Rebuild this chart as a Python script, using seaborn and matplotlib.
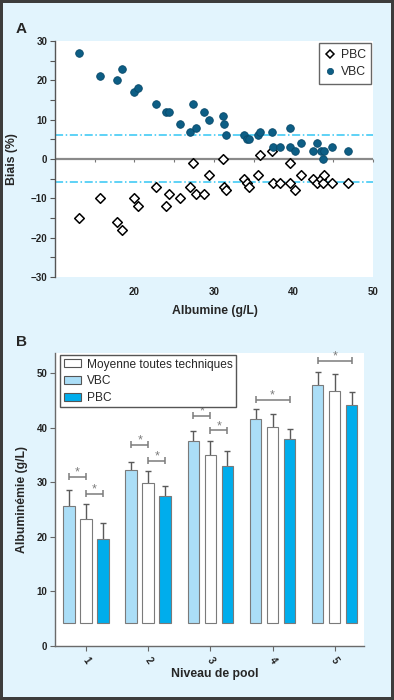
"""
Panel A: biais VBC / PBC selon l'albumine
Panel B: albuminemie par niveau de pool et technique
"""

import numpy as np
import pandas as pd
import matplotlib
matplotlib.use("Agg")
import matplotlib.pyplot as plt
import seaborn as sns
from matplotlib.patches import Patch
from matplotlib.lines import Line2D
from matplotlib.ticker import MultipleLocator

# ---- Panel A data ----
albumine = [13.05, 15.66, 17.85, 18.4, 20.0, 20.5, 22.7, 24.0, 24.35, 25.7,
            27.0, 27.4, 27.75, 28.7, 29.35, 31.15, 31.2, 31.5, 33.8, 34.15,
            34.4, 35.55, 35.75, 37.35, 37.45, 38.3, 39.6, 39.6, 40.25, 40.9,
            42.4, 42.9, 43.5, 43.7, 43.9, 44.8, 46.8]
biais_vbc = [27, 21, 20, 23, 17, 18, 14, 12, 12, 9,
             7, 14, 8, 12, 10, 11, 9, 6, 6, 5,
             5, 6, 7, 7, 3, 3, 8, 3, 2, 4,
             2, 4, 2, 0, 2, 3, 2]
biais_pbc = [-15, -10, -16, -18, -10, -12, -7, -12, -9, -10,
             -7, -1, -9, -9, -4, 0, -7, -8, -5, -6,
             -7, -4, 1, 2, -6, -6, -1, -6, -8, -4,
             -5, -6, -5, -6, -4, -6, -6]
limite_haute = 6.2
limite_basse = -5.8

# ---- Panel B data ----
pools = ["1", "2", "3", "4", "5"]
techniques = ["VBC", "Moyenne toutes techniques", "PBC"]
moy_vbc = [25.7, 32.3, 37.6, 41.6, 47.8]
moy_all = [23.35, 29.9, 35.1, 40.1, 46.8]
moy_pbc = [19.6, 27.45, 33.0, 38.0, 44.25]
sd_vbc = [2.9, 1.5, 1.8, 1.8, 2.4]
sd_all = [2.75, 2.25, 2.5, 2.4, 3.0]
sd_pbc = [2.95, 1.85, 2.7, 1.85, 2.25]
base_barres = 4.3

# brackets de significativite
sig_pool = [0, 0, 1, 1, 2, 2, 3, 4]
sig_a = ["VBC", "Moyenne toutes techniques"] * 3 + ["VBC", "VBC"]
sig_b = ["Moyenne toutes techniques", "PBC"] * 3 + ["PBC", "PBC"]
sig_y = [31.0, 27.9, 36.9, 34.0, 42.2, 39.5, 45.1, 52.3]

# colours
BG = "#e2f4fd"
C_VBC_DOT = "#0d5e85"
C_LIM = "#33c6f4"
palette = {"VBC": "#abdef7", "Moyenne toutes techniques": "white", "PBC": "#00adec"}

sns.set_style("white")
plt.rcParams['font.family'] = ['Liberation Sans', 'DejaVu Sans']

fig = plt.figure(figsize=(3.94, 7.0), dpi=100, facecolor=BG,
                 edgecolor="#3c3c3c", linewidth=4)
axA = fig.add_axes([0.1396, 0.6043, 0.807, 0.337])
axB = fig.add_axes([0.1396, 0.0771, 0.784, 0.4186])

# ================= Panel A =================
axA.set_facecolor("white")
axA.set_xlim(10, 50)
axA.set_ylim(-30, 30)

axA.axhline(0, color="#8a8a8a", lw=1.6, zorder=1)
axA.axhline(limite_haute, color=C_LIM, lw=1.1, ls=(0, (5.3, 1.7, 1, 1.7)), zorder=1)
axA.axhline(limite_basse, color=C_LIM, lw=1.1, ls=(0, (5.3, 1.7, 1, 1.7)), zorder=1)

sns.scatterplot(x=albumine, y=biais_pbc, marker="D", s=24, color="white",
                edgecolor="black", linewidth=1.1, ax=axA, zorder=3)
sns.scatterplot(x=albumine, y=biais_vbc, marker="o", s=30, color=C_VBC_DOT,
                edgecolor="#08496a", linewidth=0.6, ax=axA, zorder=3)

# small ticks along the zero line
loc0 = (0 - axA.get_ylim()[0]) / (axA.get_ylim()[1] - axA.get_ylim()[0])
sec = axA.secondary_xaxis(loc0)
sec.set_xticks(np.arange(15, 51, 5))
sec.tick_params(axis="x", direction="in", length=2.5, width=0.8, color="#777777",
                labeltop=False, labelbottom=False)
for s in sec.spines.values():
    s.set_visible(False)

axA.set_xticks([20, 30, 40, 50])
axA.yaxis.set_major_locator(MultipleLocator(10))
axA.yaxis.set_minor_locator(MultipleLocator(5))
axA.tick_params(axis="x", length=0, pad=7, labelsize=7)
axA.tick_params(axis="y", which="both", direction="out", length=3.5, width=0.8,
                color="#555555", left=True, labelsize=7, pad=2)
for side in ["top", "right", "bottom"]:
    axA.spines[side].set_visible(False)
axA.spines["left"].set_color("#555555")
axA.spines["left"].set_linewidth(1.0)
for lab in axA.get_xticklabels() + axA.get_yticklabels():
    lab.set_fontweight("bold")
    lab.set_color("#222222")

axA.set_xlabel("Albumine (g/L)", fontsize=8.8, fontweight="bold")
axA.set_ylabel("Biais (%)", fontsize=8.8, fontweight="bold")
axA.xaxis.set_label_coords(0.503, -0.118)
axA.yaxis.set_label_coords(-0.116, 0.5)

handlesA = [
    Line2D([], [], marker="D", ls="none", markersize=4.2, markerfacecolor="white",
           markeredgecolor="black", markeredgewidth=1.1, label="PBC"),
    Line2D([], [], marker="o", ls="none", markersize=4.5, markerfacecolor=C_VBC_DOT,
           markeredgecolor="#08496a", markeredgewidth=0.5, label="VBC"),
]
legA = axA.legend(handles=handlesA, loc="upper right", bbox_to_anchor=(0.995, 0.99),
                  fontsize=8.8, frameon=True, fancybox=False, framealpha=1,
                  edgecolor="#666666", handlelength=0.8, handletextpad=0.5,
                  borderpad=0.45, labelspacing=0.45, borderaxespad=0)
legA.get_frame().set_linewidth(1.0)

# ================= Panel B =================
dfB = pd.DataFrame({
    "pool": pools * 3,
    "technique": [t for t in techniques for _ in pools],
    "moyenne": moy_vbc + moy_all + moy_pbc,
    "sd": sd_vbc + sd_all + sd_pbc,
})
dfB["hauteur"] = dfB["moyenne"] - base_barres

axB.set_facecolor("white")
sns.barplot(data=dfB, x="pool", y="hauteur", hue="technique", hue_order=techniques,
            palette=palette, saturation=1, bottom=base_barres, width=0.82, gap=0.32,
            edgecolor="#7a7a7a", linewidth=0.8, errorbar=None, legend=False,
            ax=axB, zorder=2)

# upper-only error bars, placed on the bars seaborn drew
centres = {}
for tech, cont in zip(techniques, axB.containers):
    sub = dfB[dfB["technique"] == tech]
    xs, tops = [], []
    for i, rect in enumerate(cont.patches):
        xc = rect.get_x() + rect.get_width() / 2
        centres[(tech, i)] = xc
        xs.append(xc)
        tops.append(rect.get_y() + rect.get_height())
    sds = sub["sd"].to_numpy()
    _, caps, _ = axB.errorbar(xs, tops, yerr=[np.zeros_like(sds), sds], fmt="none",
                              ecolor="#5a5a5a", elinewidth=1.0, capsize=2.3,
                              capthick=1.0, zorder=1)
    caps[0].set_visible(False)

# significance brackets
for p, a, b, y in zip(sig_pool, sig_a, sig_b, sig_y):
    x1, x2 = centres[(a, p)], centres[(b, p)]
    axB.hlines(y, x1, x2, color="#7c7c7c", lw=1.1)
    axB.vlines([x1, x2], y - 0.65, y + 0.65, color="#7c7c7c", lw=1.1)
    axB.text((x1 + x2) / 2, y + 0.75, "*", ha="center", va="center",
             fontsize=9, color="#7c7c7c")

axB.set_xlim(-0.5, 4.47)
axB.set_ylim(0, 53.7)
axB.yaxis.set_major_locator(MultipleLocator(10))
axB.tick_params(axis="both", direction="out", length=3.5, width=0.8,
                color="#666666", bottom=True, left=True, labelsize=7, pad=2)
axB.tick_params(axis="x", labelrotation=-55, pad=3)
for side in ["top", "right"]:
    axB.spines[side].set_visible(False)
for side in ["left", "bottom"]:
    axB.spines[side].set_color("#6a6a6a")
    axB.spines[side].set_linewidth(1.0)
for lab in axB.get_xticklabels() + axB.get_yticklabels():
    lab.set_fontweight("bold")
    lab.set_color("#222222")

axB.set_xlabel("Niveau de pool", fontsize=8.8, fontweight="bold")
axB.set_ylabel("Albuminémie (g/L)", fontsize=8.8, fontweight="bold")
axB.xaxis.set_label_coords(0.517, -0.074)
axB.yaxis.set_label_coords(-0.087, 0.5)

legend_order = ["Moyenne toutes techniques", "VBC", "PBC"]
handlesB = [Patch(facecolor=palette[t], edgecolor="#555555", linewidth=0.8, label=t)
            for t in legend_order]
legB = axB.legend(handles=handlesB, loc="upper left", bbox_to_anchor=(0.016, 0.993),
                  fontsize=8.6, frameon=True, fancybox=False, framealpha=1,
                  edgecolor="#555555", handlelength=1.45, handleheight=0.65,
                  handletextpad=0.5, borderpad=0.3, labelspacing=0.38,
                  borderaxespad=0)
legB.get_frame().set_linewidth(1.0)

# panel letters
fig.text(16 / 394, 1 - 33 / 700, "A", fontsize=11, fontweight="bold", va="baseline")
fig.text(16 / 394, 1 - 346 / 700, "B", fontsize=11, fontweight="bold", va="baseline")

fig.savefig("out.png", dpi=100)
